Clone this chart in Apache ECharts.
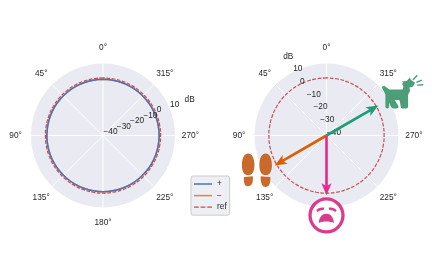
<!DOCTYPE html>
<html><head><meta charset="utf-8">
<style>html,body{margin:0;padding:0;background:#fff}#c{width:432px;height:272px}</style>
<script src="https://cdn.jsdelivr.net/npm/echarts@6/dist/echarts.min.js"></script>
</head><body><div id="c"></div>
<script>
const angles = [0,10,20,30,40,50,60,70,80,90,100,110,120,130,140,150,160,170,180,190,200,210,220,230,240,250,260,270,280,290,300,310,320,330,340,350,360];
const plusDb = [-1,-1,-1,-1,-1,-1,-1,-1,-1,-1,-1,-1,-1,-1,-1,-1,-1,-1,-1,-1,-1,-1,-1,-1,-1,-1,-1,-1,-1,-1,-1,-1,-1,-1,-1,-1,-1];
const minusDb = [-1,-1,-1,-1,-1,-1,-1,-1,-1,-1,-1,-1,-1,-1,-1,-1,-1,-1,-1,-1,-1,-1,-1,-1,-1,-1,-1,-1,-1,-1,-1,-1,-1,-1,-1,-1,-1];
const refDb = [0,0,0,0,0,0,0,0,0,0,0,0,0,0,0,0,0,0,0,0,0,0,0,0,0,0,0,0,0,0,0,0,0,0,0,0,0];
const radialTicks = [-40,-30,-20,-10,0,10];
const angleTicks = [0,45,90,135,180,225,270,315];
const arrowAngles = [300,120,180];
const arrowTipDb = [1.5,1.5,1.5];
const arrowShaftDb = [-2,-2,-2];
const arrowColors = ['#1b9e77','#d95f02','#e7298a'];
const iconAngles = [300,116.5,180];
const iconDb = [21,14,15.5];
const iconColors = ['#4c9e78','#c96a2b','#dc3a8c'];
const iconSizes = [[41.7,33.7],[30,33.4],[36.3,36.3]];
const iconPaths = [
 'path://M65 53 L72 49 L88 60 L128 60 L130 52 L126 43 L130 40 L125 36 L140 35 L149 24 L153 32 L165 40 L158 52 L148 54 L150 64 L144 76 L144 112 Q144 117 138 117 L127 117 Q122 117 122 111 L118 92 L104 92 L115 110 Q117 117 110 117 L100 117 Q96 117 93 113 L87 100 L87 112 Q87 117 82 117 Q76 117 76 112 L76 75 Z M157 30 L170 16 L173 19 L160 33 Z M168 37 L184 30 L186 34 L170 41 Z M171 45 L189 44 L190 48 L171 49 Z',
 'path://M39 25 C52 25 58 42 58 60 C58 78 52 90 39 90 C26 90 20 78 20 60 C20 42 26 25 39 25 Z M26 95 L53 93 C55 112 50 123 39 123 C28 123 25 112 26 95 Z M92 25 C105 25 111 42 111 60 C111 78 105 90 92 90 C79 90 73 78 73 60 C73 42 79 25 92 25 Z M77 93 L106 95 C108 114 102 125 92 125 C81 125 76 112 77 93 Z',
 'path://M279 555 A54.5 54.5 0 1 1 388 555 A54.5 54.5 0 1 1 279 555 Z M289 555 A44.5 44.5 0 1 0 378 555 A44.5 44.5 0 1 0 289 555 Z M310 578 C312 560 320 550 333 550 C346 550 354 560 356 578 C345 572 321 572 310 578 Z M303 540 C308 532 318 530 327 532 L325 539 C318 538 312 541 307 545 Z M340 532 C349 530 358 532 364 540 L360 545 C355 541 348 538 342 539 Z'
];
const angleLabelDb = 20.7;
const fmt = v => String(v).replace('-', '\u2212');
const zip = vals => vals.map((v, i) => [v, angles[i]]);
const TXT = '#262626', FONT = '"Liberation Sans", Arial, sans-serif', FS = 8.3;

const polars = [{center:[103,135.5], radius:[0,72]},{center:[326.5,135.5], radius:[0,72]}];
const angleAxes = [0,1].map(i => ({
  polarIndex:i, type:'value', min:0, max:360, interval:45, startAngle:90, clockwise:false,
  axisLine:{show:false}, axisTick:{show:false}, minorTick:{show:false}, axisLabel:{show:false},
  splitLine:{show:true, lineStyle:{color:'#fff', width:1}}
}));
const radiusAxes = [0,1].map(i => ({
  polarIndex:i, type:'value', min:-40, max:10, interval:10,
  axisLine:{show:false}, axisTick:{show:false}, axisLabel:{show:false},
  splitLine:{show:true, lineStyle:{color:'#fff', width:1}},
  splitArea:{show:true, areaStyle:{color:['#eaeaf2']}}
}));
const curve = (name, pi, vals, color, width, type, z) => ({
  name, type:'line', coordinateSystem:'polar', polarIndex:pi, data:zip(vals), showSymbol:false, symbol:'none',
  smooth:0.5, clip:false, z, silent:true, lineStyle:{color, width, type}, itemStyle:{color}
});
const textBase = pi => ({
  type:'scatter', coordinateSystem:'polar', polarIndex:pi, clip:false, z:52, silent:true,
  symbolSize:1, itemStyle:{color:'transparent', opacity:1}
});
const angleLabels = pi => ({...textBase(pi),
  data:angleTicks.map(a => [angleLabelDb, a]),
  label:{show:true, position:'inside', color:TXT, fontSize:FS, fontFamily:FONT, formatter:p => p.value[1] + '°'}
});
const tickLabels = (pi, angle, dy) => ({...textBase(pi),
  data:radialTicks.map(t => [t, angle]),
  label:{show:true, position:'right', distance:0, offset:[0,dy], color:TXT, fontSize:FS, fontFamily:FONT,
    formatter:p => fmt(p.value[0])}
});
const dbLabel = (pi, angle, off) => ({...textBase(pi),
  data:[[radialTicks[5], angle]],
  label:{show:true, position:'right', distance:0, offset:off, color:TXT, fontSize:FS, fontFamily:FONT, formatter:'dB'}
});
const shaft = i => ({
  type:'line', coordinateSystem:'polar', polarIndex:1, clip:false, z:55, silent:true,
  lineStyle:{color:arrowColors[i], width:2.6}, itemStyle:{color:arrowColors[i]},
  showSymbol:false, symbol:'none',
  data:[[radialTicks[0], arrowAngles[i]], [arrowShaftDb[i], arrowAngles[i]]]
});
const head = i => ({
  type:'scatter', coordinateSystem:'polar', polarIndex:1, clip:false, z:56, silent:true,
  symbol:'arrow', symbolSize:[7.5,12], symbolRotate:arrowAngles[i], itemStyle:{color:arrowColors[i], opacity:1},
  data:[[arrowTipDb[i], arrowAngles[i]]]
});
const icon = i => ({
  type:'scatter', coordinateSystem:'polar', polarIndex:1, clip:false, z:60, silent:true,
  symbol:iconPaths[i], symbolSize:iconSizes[i], itemStyle:{color:iconColors[i], opacity:1},
  data:[[iconDb[i], iconAngles[i]]]
});
const faceBack = {
  type:'scatter', coordinateSystem:'polar', polarIndex:1, clip:false, z:59, silent:true,
  symbol:'circle', symbolSize:32, itemStyle:{color:'#fff', opacity:1},
  data:[[iconDb[2], iconAngles[2]]]
};

const chart = echarts.init(document.getElementById('c'), null, {renderer:'canvas'});
chart.setOption({
  animation:false, backgroundColor:'#fff',
  polar:polars, angleAxis:angleAxes, radiusAxis:radiusAxes,
  legend:{
    left:191, top:176, orient:'vertical', padding:[4,3,4,3], itemWidth:18, itemHeight:1.5, itemGap:3.6,
    backgroundColor:'rgba(234,234,242,0.8)', borderColor:'#cccccc', borderWidth:1, borderRadius:2,
    textStyle:{color:TXT, fontSize:FS, fontFamily:FONT},
    data:[{name:'+',icon:'rect'},{name:'\u2212',icon:'rect'},{name:'ref',icon:'path://M0 0h4v1h-4z M5.5 0h4v1h-4z M11 0h4v1h-4z'}],
    selectedMode:false, z:70
  },
  series:[
    curve('\u2212',0,minusDb,'#dd8452',1.5,'solid',51),
    curve('+',0,plusDb,'#4c72b0',1.5,'solid',51),
    curve('ref',0,refDb,'#c44e52',1.2,[3.7,1.6],51),
    curve('ref',1,refDb,'#c44e52',1.2,[3.7,1.6],51),
    angleLabels(0), angleLabels(1),
    tickLabels(0,292.5,-3.7), tickLabels(1,28,-3),
    dbLabel(0,292.5,[14.5,-8.5]), dbLabel(1,28,[-10,-15]),
    shaft(0),shaft(1),shaft(2),
    head(0),head(1),head(2),
    faceBack,
    icon(0),icon(1),icon(2)
  ]
});
</script></body></html>
